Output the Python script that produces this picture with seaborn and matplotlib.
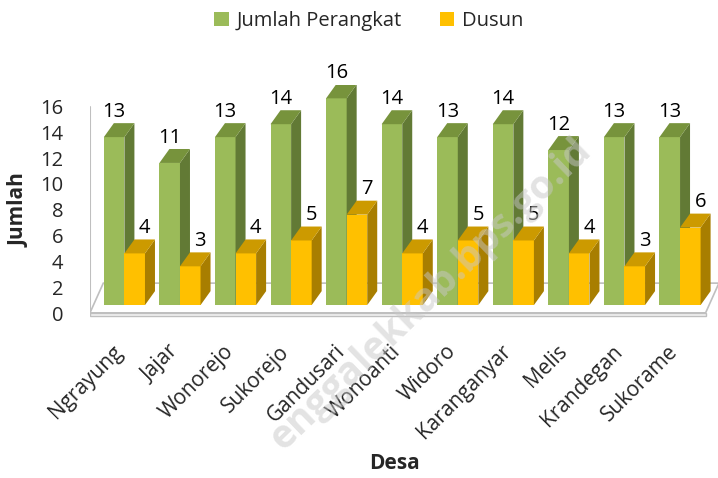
import numpy as np
import pandas as pd
import matplotlib
matplotlib.use("Agg")
import matplotlib.pyplot as plt
import matplotlib.transforms as mtransforms
from matplotlib.patches import Polygon, Patch
import seaborn as sns

# -----------------------------
# Data
# -----------------------------
desa = ["Ngrayung", "Jajar", "Wonorejo", "Sukorejo", "Gandusari", "Wonoanti",
        "Widoro", "Karanganyar", "Melis", "Krandegan", "Sukorame"]
jumlah_perangkat = [13, 11, 13, 14, 16, 14, 13, 14, 12, 13, 13]
dusun = [4, 3, 4, 5, 7, 4, 5, 5, 4, 3, 6]
series = ["Jumlah Perangkat", "Dusun"]
yticks = [0, 2, 4, 6, 8, 10, 12, 14, 16]

df = pd.DataFrame({
    "Desa": desa + desa,
    "Seri": [series[0]] * len(desa) + [series[1]] * len(desa),
    "Jumlah": jumlah_perangkat + dusun,
})

# colours: front, side, top
front = {"Jumlah Perangkat": "#9BBB59", "Dusun": "#FFC000"}
side = {"Jumlah Perangkat": "#627A35", "Dusun": "#A87E00"}
top = {"Jumlah Perangkat": "#77933C", "Dusun": "#CC9A00"}

sns.set_style("white")
plt.rcParams["font.family"] = ["Open Sans", "DejaVu Sans"]
FS = 14.5

fig = plt.figure(figsize=(7.18, 4.78), dpi=100)
ax = fig.add_axes([0.1253, 0.3347, 0.876, 0.4866])

sns.barplot(data=df, x="Desa", y="Jumlah", hue="Seri", palette=front,
            width=0.74, saturation=1, linewidth=0, legend=False, ax=ax)

xl, xr = -0.62, 10.70
ax.set_xlim(xl, xr)
ax.set_ylim(-1, 17)

# pseudo 3D depth (data units)
dx, dy = 0.18, 1.08

# -----------------------------
# Floor and wall edge
# -----------------------------
fdx, fy0, fy1 = 0.24, -0.6, 1.7
fr = xr - fdx
floor = Polygon([(xl, fy0), (fr, fy0), (xr, fy1), (xl + fdx, fy1)],
                closed=True, facecolor="white", edgecolor="#BFBFBF",
                linewidth=1.2, zorder=0.5)
ax.add_patch(floor)
slab = Polygon([(xl, fy0), (fr, fy0), (fr, fy0 - 0.22), (xl, fy0 - 0.22)],
               closed=True, facecolor="#F2F2F2", edgecolor="#BFBFBF",
               linewidth=1.0, zorder=0.5)
ax.add_patch(slab)
ax.plot([xl + 0.005, xl + 0.005], [fy0, 15.3], color="#BFBFBF", lw=1.5, zorder=0.4)

# -----------------------------
# Bars: add side and top faces
# -----------------------------
for k, cont in enumerate(ax.containers):
    name = series[k]
    z = 2 + k
    for p in cont.patches:
        x0 = p.get_x()
        w = p.get_width()
        h = p.get_height()
        x1 = x0 + w
        p.set_zorder(z)
        ax.add_patch(Polygon([(x1, 0), (x1 + dx, dy), (x1 + dx, h + dy), (x1, h)],
                             closed=True, facecolor=side[name], edgecolor="none",
                             zorder=z))
        ax.add_patch(Polygon([(x0, h), (x0 + dx, h + dy), (x1 + dx, h + dy), (x1, h)],
                             closed=True, facecolor=top[name], edgecolor="none",
                             zorder=z))
        lx = x0 + w / 2 + (dx if k == 1 else 0)
        ax.text(lx, h + 1.95, f"{h:.0f}", ha="center", va="center",
                fontsize=FS, color="#000000", zorder=6)

# -----------------------------
# Axes styling
# -----------------------------
sns.despine(ax=ax, left=True, bottom=True)
ax.set_yticks(yticks)
ax.set_yticklabels([str(t) for t in yticks], fontsize=FS)
ax.tick_params(axis="y", length=0, pad=19)
offset = mtransforms.ScaledTranslation(0, -8 / 100, fig.dpi_scale_trans)
for lab in ax.get_yticklabels():
    lab.set_transform(lab.get_transform() + offset)

ax.tick_params(axis="x", length=0, pad=22)
xoff = mtransforms.ScaledTranslation(-5 / 100, 0, fig.dpi_scale_trans)
for lab in ax.get_xticklabels():
    lab.set_rotation(45)
    lab.set_ha("right")
    lab.set_va("center")
    lab.set_rotation_mode("anchor")
    lab.set_fontsize(15)
    lab.set_transform(lab.get_transform() + xoff)

ax.set_xlabel("")
ax.set_ylabel("")
fig.text(0.549, 0.031, "Desa", ha="center", va="center", fontsize=15,
         fontweight="bold")
fig.text(0.027, 0.56, "Jumlah", ha="center", va="center", rotation=90,
         fontsize=15, fontweight="bold")

handles = [Patch(facecolor=front[s], edgecolor="none", label=s) for s in series]
fig.legend(handles=handles, loc="upper center", bbox_to_anchor=(0.514, 1.015),
           ncol=2, frameon=False, fontsize=14.5, handlelength=0.7,
           handleheight=0.7, handletextpad=0.4, columnspacing=1.9)

# watermark (visible part only)
fig.text(0.600, 0.385, "enggalekkab.bps.go.id", ha="center", va="center",
         rotation=44, fontsize=28, fontweight="bold", color="#C8C8C8",
         alpha=0.5, zorder=10)

fig.savefig("out.png", dpi=100)
